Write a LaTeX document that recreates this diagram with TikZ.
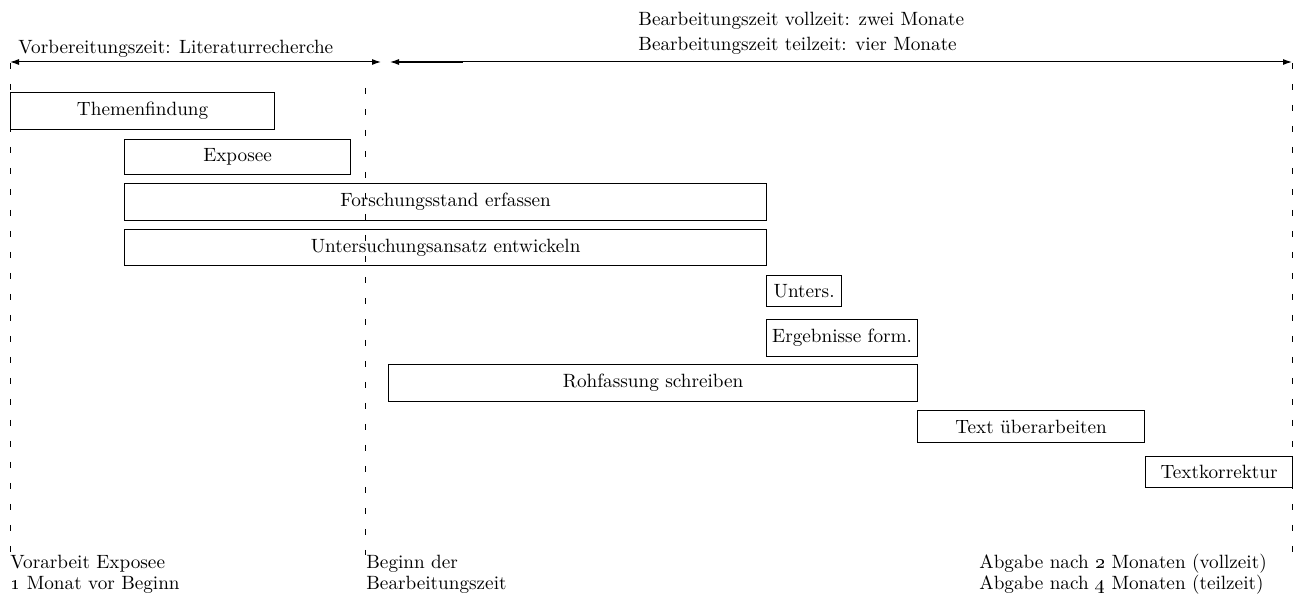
\documentclass[tikz,border=0pt]{standalone}
\usetikzlibrary{arrows.meta}
\begin{document}
\begin{tikzpicture}[x=0.5pt,y=-0.5pt,
  font={\fontsize{9.6}{10.5}\selectfont},
  box/.style={draw, line width=0.6pt, anchor=north west, inner sep=0pt, align=center},
  lbl/.style={inner sep=0pt, anchor=base west, align=left},
  guide/.style={line width=0.5pt, dash pattern=on 3pt off 7.5pt},
  span/.style={line width=0.5pt, {Latex[length=4.5pt,width=3pt]}-{Latex[length=4.5pt,width=3pt]}}]
\useasboundingbox (0,0) rectangle (1301,597);

% guide lines
\coordinate (g1t) at (10,63);   \coordinate (g1b) at (10,555);
\coordinate (g2t) at (365,88);  \coordinate (g2b) at (365,555);
\coordinate (g3t) at (1292,63); \coordinate (g3b) at (1292,555);
\draw[guide] (g1t) -- (g1b);
\draw[guide] (g2t) -- (g2b);
\draw[guide] (g3t) -- (g3b);

% spans
\coordinate (a1) at (10,62);  \coordinate (a2) at (381,62);
\coordinate (b1) at (390,62); \coordinate (b2) at (1292,62);
\draw[span] (a1) -- (a2);
\draw[span] (b1) -- (b2);
\coordinate (s1) at (395,62); \coordinate (s2) at (463,62);
\draw[line width=0.9pt] (s1) -- (s2);

% header labels
\node[lbl] (prep) at (18,54) {Vorbereitungszeit: Literaturrecherche};
\node[lbl] (voll) at (638,26) {Bearbeitungszeit vollzeit: zwei Monate};
\node[lbl] (teil) at (638,51) {Bearbeitungszeit teilzeit: vier Monate};

% task boxes
\node[box, minimum width=132pt, minimum height=18.5pt] (t1) at (10,92) {Themenfindung};
\node[box, minimum width=113pt, minimum height=17.5pt] (t2) at (124,139) {Exposee};
\node[box, minimum width=321pt, minimum height=18.5pt] (t3) at (124,183) {Forschungsstand erfassen};
\node[box, minimum width=321pt, minimum height=18pt] (t4) at (124,229) {Untersuchungsansatz entwickeln};
\node[box, minimum width=37.5pt, minimum height=15.5pt] (t5) at (766,275) {Unters.};
\node[box, minimum width=75.5pt, minimum height=18.5pt] (t6) at (766,319) {Ergebnisse form.};
\node[box, minimum width=264.5pt, minimum height=18.5pt] (t7) at (388,364) {Rohfassung schreiben};
\node[box, minimum width=113.5pt, minimum height=16pt] (t8) at (917,410) {Text überarbeiten};
\node[box, minimum width=73.5pt, minimum height=15.5pt] (t9) at (1145,456) {Textkorrektur};

% bottom labels (base anchor = baseline of last line)
\node[lbl] (m1) at (10,590) {Vorarbeit Exposee\\\oldstylenums{1} Monat vor Beginn};
\node[lbl] (m2) at (366,590) {Beginn der\\Bearbeitungszeit};
\node[lbl] (m3) at (979,590) {Abgabe nach \oldstylenums{2} Monaten (vollzeit)\\Abgabe nach \oldstylenums{4} Monaten (teilzeit)};
\end{tikzpicture}
\end{document}
